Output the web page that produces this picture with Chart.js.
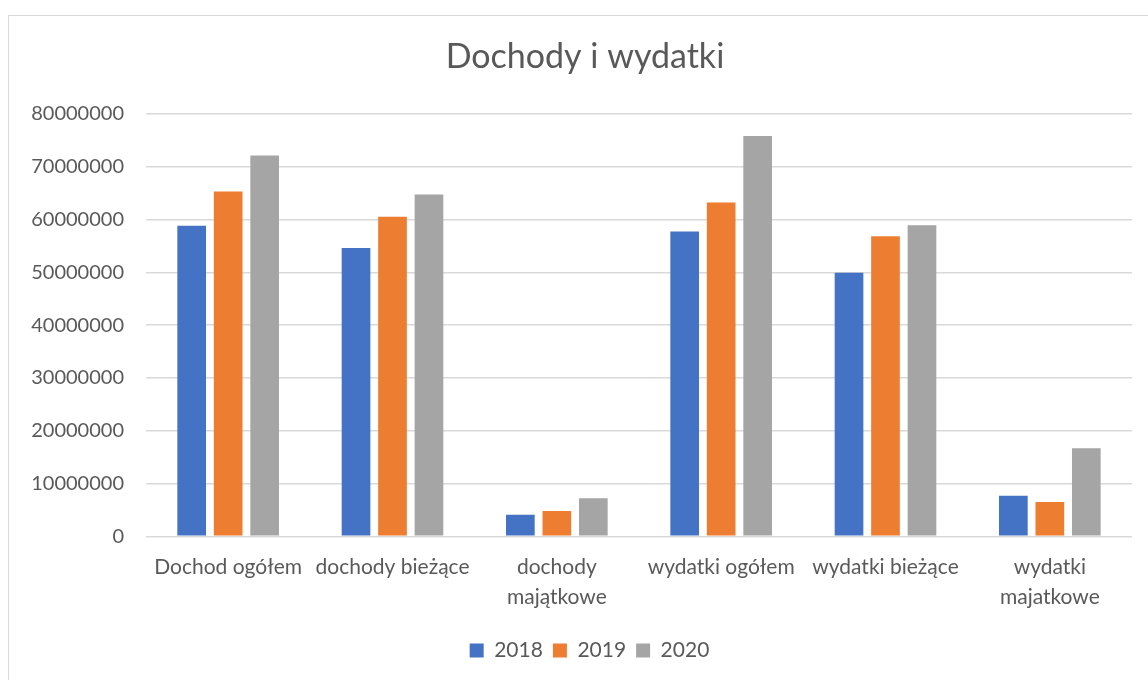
<!DOCTYPE html>
<html>
<head>
<meta charset="utf-8">
<script src="https://cdn.jsdelivr.net/npm/chart.js@4"></script>
<style>
  html, body { margin: 0; background: #fff; overflow: hidden; }
  #box {
    position: absolute; left: 8px; top: 15px;
    width: 1152px; height: 680px;
    border: 1px solid #d9d9d9;
  }
</style>
</head>
<body>
<div id="box"><canvas id="chart_canvas" width="1152" height="680"></canvas></div>
<script>
const categories = [
    "Dochod ogółem",
    "dochody bieżące",
    ["dochody", "majątkowe"],
    "wydatki ogółem",
    "wydatki bieżące",
    ["wydatki", "majatkowe"]
];
const years = ["2018", "2019", "2020"];
const values2018 = [58800000, 54600000, 4100000, 57700000, 49900000, 7700000];
const values2019 = [65300000, 60500000, 4800000, 63200000, 56800000, 6500000];
const values2020 = [72100000, 64700000, 7200000, 75800000, 58900000, 16700000];
const colors = ['#4472C4', '#ED7D31', '#A5A5A5'];

const FONT = "Lato, 'Open Sans', sans-serif";
const TEXT = '#595959';

function makeSet(label, data, color) {
    return {
        label: label,
        data: data,
        backgroundColor: color,
        borderWidth: 0,
        categoryPercentage: 0.666,
        barPercentage: 0.786,
    };
}

// the original frame is wider than the window, so title and legend sit a bit right of the plot centre
const shiftBlocks = {
    id: 'shiftBlocks',
    afterLayout(chart) {
        chart.titleBlock.left += 14.5;
        chart.titleBlock.right += 14.5;
        chart.legend.left += 19;
        chart.legend.right += 19;
    }
};

const config = {
    type: 'bar',
    data: {
        labels: categories,
        datasets: [
            makeSet(years[0], values2018, colors[0]),
            makeSet(years[1], values2019, colors[1]),
            makeSet(years[2], values2020, colors[2]),
        ]
    },
    options: {
        responsive: false,
        animation: false,
        layout: {
            padding: { left: 0, right: 29, top: 0, bottom: 25 }
        },
        plugins: {
            title: {
                display: true,
                text: 'Dochody i wydatki',
                color: TEXT,
                font: { family: FONT, size: 34, weight: 'normal' },
                padding: { top: 21, bottom: 36 }
            },
            legend: {
                position: 'bottom',
                labels: {
                    color: TEXT,
                    font: { family: FONT, size: 21 },
                    boxWidth: 14,
                    boxHeight: 14,
                    padding: 10
                }
            },
            tooltip: { enabled: false }
        },
        scales: {
            x: {
                grid: { display: false, drawTicks: false },
                border: { display: false },
                ticks: {
                    color: TEXT,
                    font: { family: FONT, size: 21, lineHeight: 1.42 },
                    padding: 16,
                    maxRotation: 0,
                    autoSkip: false
                },
                afterFit: function (scale) { scale.height = scale.height + 2; }
            },
            y: {
                min: 0,
                max: 80000000,
                grid: { color: '#d9d9d9', lineWidth: 1.5, drawTicks: false },
                border: { display: false },
                ticks: {
                    stepSize: 10000000,
                    color: TEXT,
                    font: { family: FONT, size: 20 },
                    padding: 22,
                    callback: function (v) { return String(v); }
                },
                afterFit: function (scale) { scale.width = 137; }
            }
        }
    },
    plugins: [shiftBlocks]
};

var ctx_chart = document.getElementById("chart_canvas").getContext('2d');
var bar_chart = new Chart(ctx_chart, config);
</script>
</body>
</html>
